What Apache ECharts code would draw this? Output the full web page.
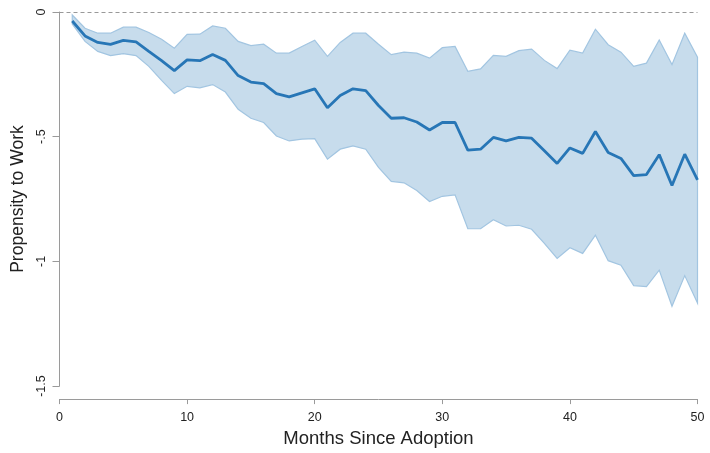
<!DOCTYPE html>
<html>
<head>
<meta charset="utf-8">
<script src="https://cdn.jsdelivr.net/npm/echarts@6/dist/echarts.min.js"></script>
<style>html,body{margin:0;padding:0;background:#fff}#c{width:710px;height:453px}</style>
</head>
<body>
<div id="c"></div>
<script>
var months = [1,2,3,4,5,6,7,8,9,10,11,12,13,14,15,16,17,18,19,20,21,22,23,24,25,26,27,28,29,30,31,32,33,34,35,36,37,38,39,40,41,42,43,44,45,46,47,48,49,50];
var estimate = [-0.036,-0.096,-0.122,-0.13,-0.114,-0.12,-0.158,-0.195,-0.235,-0.192,
-0.195,-0.17,-0.194,-0.255,-0.281,-0.287,-0.327,-0.34,-0.324,-0.308,
-0.384,-0.335,-0.308,-0.315,-0.375,-0.426,-0.424,-0.441,-0.473,-0.443,
-0.443,-0.554,-0.55,-0.503,-0.517,-0.503,-0.506,-0.556,-0.607,-0.545,
-0.567,-0.479,-0.563,-0.587,-0.656,-0.652,-0.572,-0.696,-0.57,-0.673];
var upper = [-0.012,-0.065,-0.085,-0.085,-0.061,-0.061,-0.082,-0.109,-0.145,-0.09,
-0.089,-0.056,-0.065,-0.118,-0.135,-0.129,-0.165,-0.165,-0.138,-0.113,
-0.178,-0.122,-0.085,-0.085,-0.129,-0.171,-0.161,-0.165,-0.185,-0.143,
-0.138,-0.238,-0.228,-0.174,-0.178,-0.155,-0.149,-0.194,-0.227,-0.153,
-0.165,-0.069,-0.131,-0.161,-0.218,-0.205,-0.112,-0.211,-0.085,-0.181];
var lower = [-0.048,-0.118,-0.158,-0.175,-0.167,-0.175,-0.218,-0.274,-0.327,-0.298,
-0.304,-0.291,-0.321,-0.39,-0.426,-0.443,-0.497,-0.517,-0.51,-0.508,
-0.59,-0.55,-0.537,-0.55,-0.623,-0.679,-0.685,-0.716,-0.76,-0.739,
-0.733,-0.869,-0.869,-0.833,-0.858,-0.855,-0.871,-0.928,-0.988,-0.945,
-0.968,-0.895,-0.997,-1.015,-1.097,-1.101,-1.035,-1.18,-1.057,-1.167];
var yTickLabels = {'0':'0','-0.5':'-.5','-1':'-1','-1.5':'-1.5'};

var chart = echarts.init(document.getElementById('c'), null, {renderer:'canvas'});
var font = 'Liberation Sans, Arial, sans-serif';
chart.setOption({
  animation: false,
  backgroundColor: '#fff',
  grid: {left: 59.5, right: 12.5, top: 12, bottom: 64.5},
  xAxis: {
    type: 'value', min: 0, max: 50, interval: 10, offset: 13,
    name: 'Months Since Adoption', nameLocation: 'middle', nameGap: 28,
    nameTextStyle: {fontFamily: font, fontSize: 18.5, color: '#222'},
    axisLine: {show: true, onZero: false, lineStyle: {color: '#9a9a9a', width: 1}},
    axisTick: {show: true, length: 5, lineStyle: {color: '#9a9a9a'}},
    axisLabel: {fontFamily: font, fontSize: 12.5, color: '#222', margin: 12},
    splitLine: {show: false}
  },
  yAxis: {
    type: 'value', min: -1.5, max: 0, interval: 0.5,
    name: 'Propensity to Work', nameLocation: 'middle', nameGap: 31,
    nameTextStyle: {fontFamily: font, fontSize: 17.5, color: '#222'},
    axisLine: {show: true, onZero: false, lineStyle: {color: '#9a9a9a', width: 1}},
    axisTick: {show: true, length: 7, lineStyle: {color: '#9a9a9a'}},
    axisLabel: {fontFamily: font, fontSize: 12.5, color: '#222', margin: 11, rotate: 90,
      formatter: function (v) { var k = String(v); return yTickLabels[k] !== undefined ? yTickLabels[k] : k; }},
    splitLine: {show: false}
  },
  series: [
    {
      type: 'custom',
      data: [[months[0], upper[0]]],
      silent: true,
      z: 1,
      renderItem: function (params, api) {
        var pts = [];
        for (var i = 0; i < months.length; i++) pts.push(api.coord([months[i], upper[i]]));
        for (var j = months.length - 1; j >= 0; j--) pts.push(api.coord([months[j], lower[j]]));
        return {
          type: 'polygon',
          shape: {points: pts},
          style: {fill: '#c7dcec', stroke: '#a2c5e1', lineWidth: 1.2}
        };
      }
    },
    {
      type: 'line',
      data: months.map(function (m, i) { return [m, estimate[i]]; }),
      showSymbol: false,
      symbol: 'none',
      z: 3,
      lineStyle: {color: '#2776b6', width: 2.8},
      markLine: {
        silent: true, symbol: 'none', label: {show: false},
        lineStyle: {color: '#999', type: [4, 3], width: 1},
        data: [{yAxis: 0}]
      }
    }
  ]
});
</script>
</body>
</html>
